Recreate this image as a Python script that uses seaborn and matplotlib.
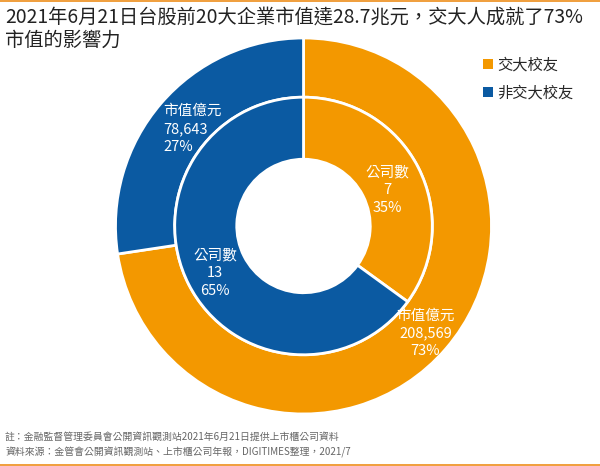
import numpy as np
import matplotlib
matplotlib.use("Agg")
import matplotlib.pyplot as plt
from matplotlib.patches import Patch, Rectangle
import seaborn as sns

# 資料
groups = ["交大校友", "非交大校友"]
market_cap = [208569, 78643]      # 市值億元
company_count = [7, 13]           # 公司數
colors = ["#F39800", "#0B5AA2"]

title = "2021年6月21日台股前20大企業市值達28.7兆元，交大人成就了73%\n市值的影響力"
notes = ["註：金融監督管理委員會公開資訊觀測站2021年6月21日提供上市櫃公司資料",
         "資料來源：金管會公開資訊觀測站、上市櫃公司年報，DIGITIMES整理，2021/7"]

sns.set_theme(style="white")
plt.rcParams['font.family'] = ['Noto Sans CJK TC', 'DejaVu Sans']

fig = plt.figure(figsize=(6, 4.66), dpi=100)

# 圓心約 (303.5, 226) px，外半徑 188 px
ax = fig.add_axes([0.1925, 0.1116, 0.6267, 0.8069])

wedge_kw = dict(edgecolor="white", linewidth=2)
outer, _ = ax.pie(market_cap, radius=1.0, startangle=90, counterclock=False,
                  colors=colors, wedgeprops=dict(width=0.315, **wedge_kw))
inner, _ = ax.pie(company_count, radius=0.685, startangle=90, counterclock=False,
                  colors=colors, wedgeprops=dict(width=0.33, **wedge_kw))
ax.set_xlim(-1, 1)
ax.set_ylim(-1, 1)
ax.set_aspect("equal")

# 標籤位置（半徑 1 = 外圈）
outer_pos = [(0.648, -0.57, "center"), (-0.745, 0.516, "left")]
inner_pos = [(0.444, 0.19, "center"), (-0.471, -0.25, "center")]


def add_labels(values, name, positions, fmt):
    total = sum(values)
    for v, (x, y, ha) in zip(values, positions):
        txt = f"{name}\n{fmt(v)}\n{v / total:.0%}"
        ax.text(x, y, txt, ha=ha, va="center", multialignment=ha,
                color="white", fontsize=10.5, linespacing=1.35, zorder=5)


add_labels(market_cap, "市值億元", outer_pos, lambda v: f"{v:,}")
add_labels(company_count, "公司數", inner_pos, lambda v: f"{v}")

# 標題
fig.text(5 / 600, 1 - 7 / 466, title, ha="left", va="top", fontsize=13.9,
         color="#222222", linespacing=1.1)

# 圖例
handles = [Patch(facecolor=c, edgecolor="none") for c in colors]
fig.legend(handles, groups, loc="upper left", bbox_to_anchor=(475 / 600, 1 - 49 / 466),
           frameon=False, fontsize=11, handlelength=0.65, handleheight=0.65,
           handletextpad=0.3, labelspacing=0.7, borderpad=0)

# 註腳
fig.text(5 / 600, 1 - 437 / 466, notes[0], ha="left", va="center", fontsize=7.1, color="#666666")
fig.text(5 / 600, 1 - 452 / 466, notes[1], ha="left", va="center", fontsize=7.1, color="#666666")

# 上下橘色邊線
fig.patches.append(Rectangle((0, 1 - 2 / 466), 1, 2 / 466, transform=fig.transFigure,
                             facecolor="#F0A040", edgecolor="none"))
fig.patches.append(Rectangle((0, 0), 1, 2 / 466, transform=fig.transFigure,
                             facecolor="#F0A040", edgecolor="none"))

fig.savefig("out.png", dpi=100)
